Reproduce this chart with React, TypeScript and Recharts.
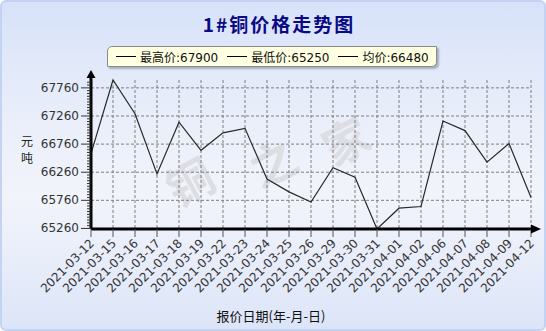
import React from 'react';
import { LineChart, Line, XAxis, YAxis, CartesianGrid, ReferenceLine } from 'recharts';

const dates = [
  '2021-03-12', '2021-03-15', '2021-03-16', '2021-03-17', '2021-03-18', '2021-03-19',
  '2021-03-22', '2021-03-23', '2021-03-24', '2021-03-25', '2021-03-26', '2021-03-29',
  '2021-03-30', '2021-03-31', '2021-04-01', '2021-04-02', '2021-04-06', '2021-04-07',
  '2021-04-08', '2021-04-09', '2021-04-12',
];
const prices = [
  66590, 67900, 67300, 66230, 67150, 66650, 66960, 67040, 66140, 65910, 65730,
  66340, 66170, 65250, 65620, 65650, 67170, 67000, 66440, 66770, 65810,
];
const majorTicks = [65260, 65760, 66260, 66760, 67260, 67760];
const legendItems = ['最高价:67900', '最低价:65250', '均价:66480'];
const watermark = ['铜', '之', '家'];

const minorTicks: number[] = [];
for (let v = 65260; v <= 67900; v += 50) minorTicks.push(v);

const data = dates.map((d, i) => ({ date: d, price: prices[i] }));

const W = 546;
const H = 331;
const LEFT = 91;
const TOP = 80;
const RIGHT = 15;
const BOTTOM = 102;
const tickFont = '"DejaVu Sans", Verdana, sans-serif';
const cjkFont = '"Noto Sans CJK SC", "DejaVu Sans", sans-serif';

const YTick = ({ x, y, payload }: any) => {
  const major = majorTicks.includes(payload.value);
  return (
    <g>
      <line x1={x - (major ? 10 : 4)} x2={x} y1={y} y2={y} stroke="#333" strokeWidth={1} />
      {major && (
        <text x={x - 12} y={y} dy={4} textAnchor="end" fontSize={12} fill="#333" fontFamily={tickFont}>
          {payload.value}
        </text>
      )}
    </g>
  );
};

const XTick = ({ x, y, payload }: any) => (
  <g>
    <line x1={x} x2={x} y1={y} y2={y + 8} stroke="#555" strokeWidth={1} />
    <text
      x={x + 4}
      y={y + 15}
      textAnchor="end"
      fontSize={12}
      fill="#333"
      fontFamily={tickFont}
      transform={`rotate(-45 ${x + 4} ${y + 15})`}
    >
      {payload.value}
    </text>
  </g>
);

export default function App() {
  const plotRight = W - RIGHT;
  const plotBottom = H - BOTTOM;
  return (
    <div
      style={{
        position: 'absolute',
        left: 0,
        top: 0,
        width: W,
        height: H,
        boxSizing: 'border-box',
        border: '2px solid #c3d3f1',
        borderRadius: 6,
        background: 'linear-gradient(to bottom, #d7e2f9 0%, #e9eefa 35%, #f2f4fb 60%, #dce5f8 100%)',
        overflow: 'hidden',
      }}
    >
      {/* watermark behind the plot */}
      {watermark.map((c, i) => (
        <div
          key={c}
          style={{
            position: 'absolute',
            left: [190, 273, 346][i] - 24 - 2,
            top: [177, 158, 136][i] - 30 - 2,
            fontFamily: cjkFont,
            fontWeight: 'bold',
            fontSize: 46,
            color: '#dcdee4',
            transform: 'rotate(-28deg)',
          }}
        >
          {c}
        </div>
      ))}

      <div
        style={{
          position: 'absolute',
          left: 0,
          width: W - 4 + 12,
          top: 9,
          textAlign: 'center',
          fontFamily: cjkFont,
          fontWeight: 'bold',
          fontSize: 19,
          letterSpacing: 2,
          color: '#0a0a84',
          lineHeight: '26px',
        }}
      >
        1#铜价格走势图
      </div>

      <div
        style={{
          position: 'absolute',
          left: 105,
          top: 44,
          width: 330,
          height: 21,
          boxSizing: 'border-box',
          background: '#ffffe1',
          border: '1px solid #8a8a8a',
          borderRadius: '5px 0 5px 0',
          boxShadow: '2px 2px 2px rgba(0,0,0,0.25)',
          display: 'flex',
          alignItems: 'center',
          paddingLeft: 8,
          fontFamily: cjkFont,
          fontSize: 12,
          color: '#111',
          whiteSpace: 'nowrap',
        }}
      >
        {legendItems.map((t) => (
          <span key={t} style={{ display: 'flex', alignItems: 'center', marginRight: 9, flexShrink: 0 }}>
            <span style={{ display: 'inline-block', width: 20, borderTop: '1px solid #000', marginRight: 4 }} />
            <span style={{ fontFamily: '"DejaVu Sans", "Noto Sans CJK SC", sans-serif', whiteSpace: 'nowrap' }}>{t}</span>
          </span>
        ))}
      </div>

      <div
        style={{
          position: 'absolute',
          left: 15,
          top: 130,
          width: 20,
          fontFamily: cjkFont,
          fontSize: 12,
          lineHeight: '17px',
          color: '#222',
          textAlign: 'center',
        }}
      >
        <div>元</div>
        <div>吨</div>
      </div>

      <div
        style={{
          position: 'absolute',
          left: 0,
          width: 544,
          top: 304,
          textAlign: 'center',
          fontFamily: cjkFont,
          fontSize: 13,
          color: '#111',
        }}
      >
        <span style={{ position: 'relative', left: -3 }}>报价日期(年-月-日)</span>
      </div>

      <div style={{ position: 'absolute', left: -2, top: -2 }}>
        <LineChart width={W} height={H} data={data} margin={{ top: TOP, right: RIGHT, bottom: 32, left: 0 }}>
          <CartesianGrid horizontal={false} stroke="#7f7f7f" strokeDasharray="3 2" />
          {majorTicks.map((v) => (
            <ReferenceLine key={v} y={v} stroke="#7f7f7f" strokeDasharray="3 2" />
          ))}
          <XAxis
            dataKey="date"
            scale="point"
            interval={0}
            height={70}
            tickLine={false}
            tickSize={0}
            tickMargin={0}
            tick={<XTick />}
            axisLine={{ stroke: '#000', strokeWidth: 3 }}
          />
          <YAxis
            type="number"
            domain={[65250, 67900]}
            ticks={minorTicks}
            interval={0}
            width={LEFT}
            tickLine={false}
            tickSize={0}
            tickMargin={0}
            tick={<YTick />}
            axisLine={{ stroke: '#000', strokeWidth: 3 }}
          />
          <Line
            type="linear"
            dataKey="price"
            stroke="#2a2a2a"
            strokeWidth={1.2}
            dot={false}
            activeDot={false}
            isAnimationActive={false}
          />
        </LineChart>
      </div>

      {/* axis arrows */}
      <svg width={W} height={H} style={{ position: 'absolute', left: -2, top: -2, pointerEvents: 'none' }}>
        <line x1={LEFT} x2={LEFT} y1={TOP} y2={74} stroke="#000" strokeWidth={3} />
        <polygon points={`${LEFT - 4.5},${TOP - 2} ${LEFT + 4.5},${TOP - 2} ${LEFT},${70}`} fill="#000" />
        <line x1={plotRight} x2={536} y1={plotBottom} y2={plotBottom} stroke="#000" strokeWidth={3} />
        <polygon points={`531,${plotBottom - 4.5} 531,${plotBottom + 4.5} 541,${plotBottom}`} fill="#000" />
      </svg>
    </div>
  );
}
